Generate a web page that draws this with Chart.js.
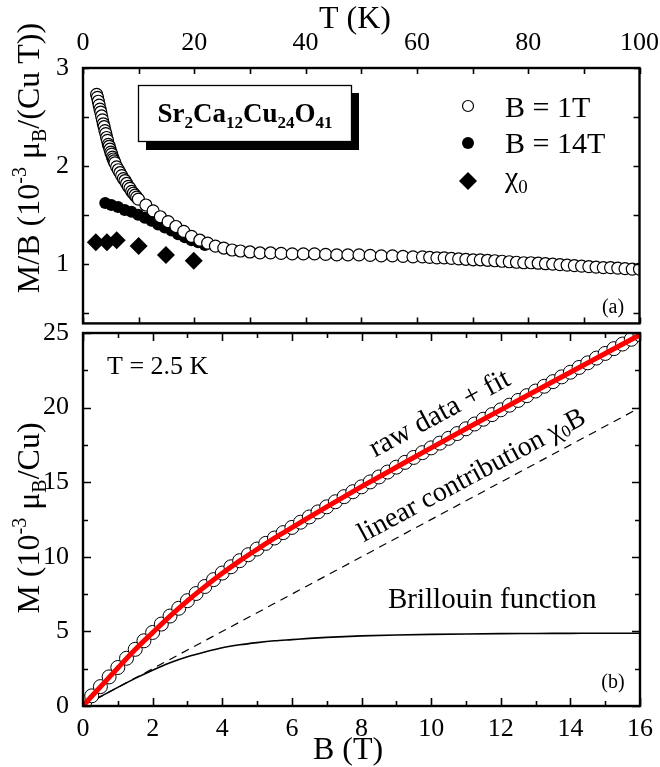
<!DOCTYPE html>
<html><head><meta charset="utf-8">
<script src="https://cdn.jsdelivr.net/npm/chart.js@4.4.0/dist/chart.umd.min.js"></script>
<style>
html,body{margin:0;padding:0;background:#fff;}
#wrap{position:relative;width:660px;height:767px;overflow:hidden;}
canvas{position:absolute;left:0;}
#ca{top:0;} #cb{top:300px;}
</style></head>
<body><div id="wrap"><canvas id="ca" width="660" height="345"></canvas><canvas id="cb" width="660" height="467"></canvas></div>
<script>
// ---------------- data: panel (a) ----------------
const tempB1 = [2.45,2.6,2.75,2.9,3.05,3.2,3.35,3.5,3.65,3.8,3.95,4.1,4.25,4.4,4.55,4.7,4.85,5.0,5.15,5.3,5.45,5.6,5.75,6.05,6.35,6.65,6.95,7.25,7.55,7.85,8.15,8.45,8.75,9.05,9.35,9.65,9.95,
  11.3,12.6,13.9,15.3,16.7,18.1,19.5,21.0,22.4,23.8,25.3,26.8,28.3,30.0,31.8,33.7,35.6,37.6,39.6,41.6,43.6,45.6,47.6,49.6,51.6,53.6,55.6,57.5,59.3,
  61.0,62.3,63.6,64.9,66.2,67.5,68.8,70.1,71.4,72.7,74.0,75.3,76.6,77.9,79.2,80.5,81.8,83.1,84.4,85.7,87.0,88.3,89.6,90.9,92.2,93.5,94.8,96.1,97.4,98.7,100.0];
const chiB1 = [2.73,2.70,2.66,2.62,2.58,2.55,2.51,2.47,2.43,2.40,2.36,2.33,2.29,2.26,2.22,2.20,2.17,2.14,2.12,2.09,2.07,2.05,2.03,1.99,1.96,1.93,1.90,1.87,1.85,1.82,1.79,1.77,1.74,1.72,1.70,1.68,1.66,
  1.60,1.54,1.48,1.43,1.38,1.33,1.28,1.24,1.21,1.18,1.16,1.14,1.13,1.12,1.11,1.11,1.105,1.10,1.10,1.10,1.095,1.09,1.09,1.09,1.085,1.08,1.08,1.075,1.07,
  1.07,1.065,1.06,1.06,1.055,1.05,1.045,1.04,1.04,1.035,1.03,1.025,1.02,1.015,1.01,1.01,1.005,1.0,0.995,0.99,0.985,0.98,0.975,0.97,0.965,0.96,0.96,0.955,0.95,0.945,0.945];
const tempB14 = [4.0,5.1,6.3,7.5,8.7,9.9,11.1,12.3,13.5,14.7,15.9,17.1,18.3,19.5,20.7,21.9];
const chiB14  = [1.62,1.60,1.58,1.55,1.53,1.50,1.47,1.44,1.40,1.37,1.34,1.30,1.27,1.24,1.22,1.19];
const tempChi0 = [2.3,4.3,6.05,10.0,14.9,19.9];
const chi0     = [1.22,1.22,1.24,1.18,1.09,1.03];
const tTicks = [0,20,40,60,80,100];
const tTickMarks = [0,10,20,30,40,50,60,70,80,90,100];
const chiTicks = [1,2,3];
const chiTickMarks = [0.5,1,1.5,2,2.5,3];

// ---------------- data: panel (b) ----------------
const fieldRaw = [0.05,0.25,0.5,0.75,1.0,1.25,1.5,1.75,2.0,2.25,2.5,2.75,3.0,3.25,3.5,3.75,4.0,4.25,4.5,4.75,5.0,5.25,5.5,5.75,6.0,6.25,6.5,6.75,7.0,7.25,7.5,7.75,8.0,8.25,8.5,8.75,9.0,9.25,9.5,9.75,10.0,10.25,10.5,10.75,11.0,11.25,11.5,11.75,12.0,12.25,12.5,12.75,13.0,13.25,13.5,13.75,14.0,14.25,14.5,14.75,15.0,15.25,15.5,15.75,16.0];
const magRaw   = [0.25,0.68,1.3,1.95,2.58,3.2,3.8,4.37,4.93,5.49,6.03,6.55,7.06,7.54,8.01,8.47,8.91,9.33,9.74,10.14,10.52,10.9,11.26,11.62,11.97,12.32,12.67,13.01,13.35,13.69,14.03,14.36,14.69,15.02,15.35,15.68,16.01,16.33,16.66,16.98,17.3,17.62,17.94,18.26,18.58,18.9,19.22,19.53,19.85,20.16,20.48,20.8,21.11,21.43,21.74,22.06,22.37,22.69,23.0,23.32,23.63,23.95,24.26,24.58,24.89];
const fieldFit = [0,0.25,0.5,0.75,1,1.5,2,2.5,3,3.5,4,4.5,5,5.5,6,7,8,9,10,11,12,13,14,15,16];
const magFit   = [0,0.65,1.28,1.92,2.55,3.78,4.92,6.03,7.05,8.0,8.9,9.73,10.5,11.25,11.95,13.35,14.7,16.0,17.3,18.58,19.85,21.11,22.37,23.63,24.88];
const fieldBrill = [0,0.5,1,1.5,2,2.5,3,3.5,4,4.5,5,5.5,6,6.5,7,8,9,10,11,12,13,14,15,16];
const magBrill   = [0,0.63,1.25,1.85,2.4,2.9,3.3,3.62,3.9,4.1,4.25,4.37,4.45,4.53,4.6,4.7,4.76,4.8,4.83,4.85,4.86,4.87,4.88,4.88];
const fieldLin = [0,16];
const magLin   = [0,20];
const bTicks = [0,2,4,6,8,10,12,14,16];
const bMinorMarks = [1,3,5,7,9,11,13,15];
const mTicks = [0,5,10,15,20,25];
const mMinorMarks = [2.5,7.5,12.5,17.5,22.5];

// ---------------- helpers ----------------
const FONT = '"Liberation Serif","Times New Roman",serif';
const pts = (xs, ys) => xs.map((x, i) => ({x, y: ys[i]}));

function rich(ctx, parts, x, y, o = {}) {
  const angle = o.angle || 0, align = o.align || 'left', sp = o.spacing || 0, weight = o.weight || 'normal';
  ctx.save();
  ctx.translate(x, y); ctx.rotate(angle);
  ctx.fillStyle = '#000'; ctx.textBaseline = o.baseline || 'alphabetic'; ctx.textAlign = 'left';
  const items = []; let total = 0;
  for (const p of parts) {
    ctx.font = `${weight} ${p.s}px ${FONT}`;
    for (const ch of p.t) { const w = ctx.measureText(ch).width; items.push({ch, w, s: p.s, dy: p.dy || 0}); total += w + sp; }
  }
  total -= sp;
  let cx = align === 'center' ? -total / 2 : (align === 'right' ? -total : 0);
  for (const it of items) { ctx.font = `${weight} ${it.s}px ${FONT}`; ctx.fillText(it.ch, cx, it.dy); cx += it.w + sp; }
  ctx.restore();
}

function frameAndTicks(chart, xs, ys) {
  const {ctx, chartArea: a} = chart;
  const sx = chart.scales.x, sy = chart.scales.y;
  ctx.save();
  ctx.strokeStyle = '#000'; ctx.lineWidth = 1.6; ctx.lineCap = 'butt';
  ctx.beginPath();
  for (const [v, len] of xs) {
    const p = Math.round(sx.getPixelForValue(v)) + 0.5;
    ctx.moveTo(p, a.top); ctx.lineTo(p, a.top + len);
    ctx.moveTo(p, a.bottom); ctx.lineTo(p, a.bottom - len);
  }
  for (const [v, len] of ys) {
    const p = Math.round(sy.getPixelForValue(v)) + 0.5;
    ctx.moveTo(a.left, p); ctx.lineTo(a.left + len, p);
    ctx.moveTo(a.right, p); ctx.lineTo(a.right - len, p);
  }
  ctx.stroke();
  ctx.lineWidth = 2.4;
  ctx.strokeRect(a.left, a.top, a.right - a.left, a.bottom - a.top);
  ctx.restore();
}

const decorA = {
  id: 'decorA',
  afterDatasetsDraw(chart) {
    const ctx = chart.ctx;
    ctx.save();
    ctx.fillStyle = '#000'; ctx.fillRect(146, 93, 213, 57);
    ctx.fillStyle = '#fff'; ctx.fillRect(138, 85, 214, 57);
    ctx.strokeStyle = '#000'; ctx.lineWidth = 1.3; ctx.strokeRect(138.5, 85.5, 213, 56);
    ctx.restore();
    rich(ctx, [{t:'Sr',s:27},{t:'2',s:17,dy:6},{t:'Ca',s:27},{t:'12',s:17,dy:6},{t:'Cu',s:27},{t:'24',s:17,dy:6},{t:'O',s:27},{t:'41',s:17,dy:6}],
      245, 122, {align:'center', weight:'bold'});
  },
  afterDraw(chart) {
    const ctx = chart.ctx;
    frameAndTicks(chart, tTickMarks.map(v => [v, 6]), chiTickMarks.map(v => [v, 6]));
    const ds = chart.data.datasets;
    ctx.save();
    ctx.lineWidth = 1.2; ctx.strokeStyle = '#000';
    ctx.beginPath(); ctx.arc(468, 106, 5.5, 0, Math.PI * 2); ctx.fillStyle = ds[0].pointBackgroundColor; ctx.fill(); ctx.stroke();
    ctx.beginPath(); ctx.arc(468, 143, 6, 0, Math.PI * 2); ctx.fillStyle = ds[1].pointBackgroundColor; ctx.fill();
    ctx.beginPath(); ctx.moveTo(459, 181); ctx.lineTo(468, 172); ctx.lineTo(477, 181); ctx.lineTo(468, 190); ctx.closePath();
    ctx.fillStyle = ds[2].pointBackgroundColor; ctx.fill();
    ctx.restore();
    rich(ctx, [{t:ds[0].label, s:30}], 505, 117);
    rich(ctx, [{t:ds[1].label, s:30}], 505, 153);
    rich(ctx, [{t:'χ', s:30},{t:'0', s:19, dy:6}], 505, 187);
    rich(ctx, [{t:'(a)', s:20}], 613, 313, {align:'center'});
    rich(ctx, [{t:'T (K)', s:32}], 355, 28, {align:'center'});
    rich(ctx, [{t:'M/B (10',s:32},{t:'-3',s:20,dy:-13},{t:' μ',s:32},{t:'B',s:20,dy:7},{t:'/(Cu T))',s:32}],
      39, 158, {align:'center', angle:-Math.PI/2});
  }
};

const decorB = {
  id: 'decorB',
  afterDraw(chart) {
    const ctx = chart.ctx;
    frameAndTicks(chart,
      bTicks.map(v => [v, 8]).concat(bMinorMarks.map(v => [v, 5])),
      mTicks.map(v => [v, 8]).concat(mMinorMarks.map(v => [v, 5])));
    const sx = chart.scales.x, sy = chart.scales.y;
    const ang = Math.atan2(sy.getPixelForValue(magLin[1]) - sy.getPixelForValue(magLin[0]),
                           sx.getPixelForValue(fieldLin[1]) - sx.getPixelForValue(fieldLin[0]));
    const off = 300;
    rich(ctx, [{t:'T = 2.5 K', s:26}], 107, 374 - off);
    rich(ctx, [{t:'raw data + fit', s:29}], 440, 414 - off, {align:'center', angle:ang, baseline:'middle'});
    rich(ctx, [{t:'linear contribution χ', s:28},{t:'0',s:17,dy:6},{t:'B',s:28}], 472, 476 - off, {align:'center', angle:ang, baseline:'middle'});
    rich(ctx, [{t:'Brillouin function', s:29}], 388, 608 - off);
    rich(ctx, [{t:'(b)', s:20}], 613, 688 - off, {align:'center'});
    rich(ctx, [{t:'B (T)', s:32}], 348, 759 - off, {align:'center'});
    rich(ctx, [{t:'M (10',s:32},{t:'-3',s:20,dy:-13},{t:' μ',s:32},{t:'B',s:20,dy:7},{t:'/Cu)',s:32}],
      39, 518 - off, {align:'center', angle:-Math.PI/2});
  }
};

const tickFont = {family: FONT, size: 26};
const common = {
  responsive: false, animation: false, events: [],
  plugins: {legend: {display: false}, tooltip: {enabled: false}}
};
const setTicks = arr => s => { s.ticks = arr.map(v => ({value: v})); };

new Chart(document.getElementById('ca'), {
  type: 'scatter',
  data: {datasets: [
    {label: 'B = 1T', data: pts(tempB1, chiB1), pointRadius: 6, pointBackgroundColor: '#fff', pointBorderColor: '#000', pointBorderWidth: 1.2},
    {label: 'B = 14T', data: pts(tempB14, chiB14), pointRadius: 6, pointBackgroundColor: '#000', pointBorderColor: '#000', pointBorderWidth: 0},
    {label: 'χ0', data: pts(tempChi0, chi0), pointStyle: 'rectRot', pointRadius: 9, pointBackgroundColor: '#000', pointBorderColor: '#000', pointBorderWidth: 0}
  ]},
  options: Object.assign({}, common, {
    layout: {padding: {left: 0, right: 20, top: 0, bottom: 18}},
    scales: {
      x: {type: 'linear', position: 'top', min: 0, max: 100, afterBuildTicks: setTicks(tTicks), afterFit: s => { s.height = 68; },
          grid: {display: false}, border: {display: false},
          ticks: {font: tickFont, color: '#000', padding: 1, maxRotation: 0, autoSkip: false}},
      y: {type: 'linear', min: 0.39, max: 3, afterBuildTicks: setTicks(chiTicks), afterFit: s => { s.width = 83; },
          grid: {display: false}, border: {display: false},
          ticks: {font: tickFont, color: '#000', padding: 6, autoSkip: false}}
    }
  }),
  plugins: [decorA]
});

new Chart(document.getElementById('cb'), {
  type: 'scatter',
  data: {datasets: [
    {label: 'fit', data: pts(fieldFit, magFit), showLine: true, borderColor: '#ff0000', borderWidth: 5, pointRadius: 0, cubicInterpolationMode: 'monotone'},
    {label: 'raw data', data: pts(fieldRaw, magRaw), pointRadius: 7, pointBackgroundColor: '#fff', pointBorderColor: '#000', pointBorderWidth: 1},
    {label: 'linear contribution', data: pts(fieldLin, magLin), showLine: true, borderColor: '#000', borderWidth: 1.2, borderDash: [8, 6], pointRadius: 0},
    {label: 'Brillouin function', data: pts(fieldBrill, magBrill), showLine: true, borderColor: '#000', borderWidth: 1.6, pointRadius: 0, cubicInterpolationMode: 'monotone'}
  ]},
  options: Object.assign({}, common, {
    layout: {padding: {left: 0, right: 20, top: 33, bottom: 0}},
    scales: {
      x: {type: 'linear', position: 'bottom', min: 0, max: 16, afterBuildTicks: setTicks(bTicks), afterFit: s => { s.height = 61; },
          grid: {display: false}, border: {display: false},
          ticks: {font: tickFont, color: '#000', padding: 0, maxRotation: 0, autoSkip: false}},
      y: {type: 'linear', min: 0, max: 25, afterBuildTicks: setTicks(mTicks), afterFit: s => { s.width = 83; },
          grid: {display: false}, border: {display: false},
          ticks: {font: tickFont, color: '#000', padding: 6, autoSkip: false}}
    }
  }),
  plugins: [decorB]
});
</script>
</body></html>
